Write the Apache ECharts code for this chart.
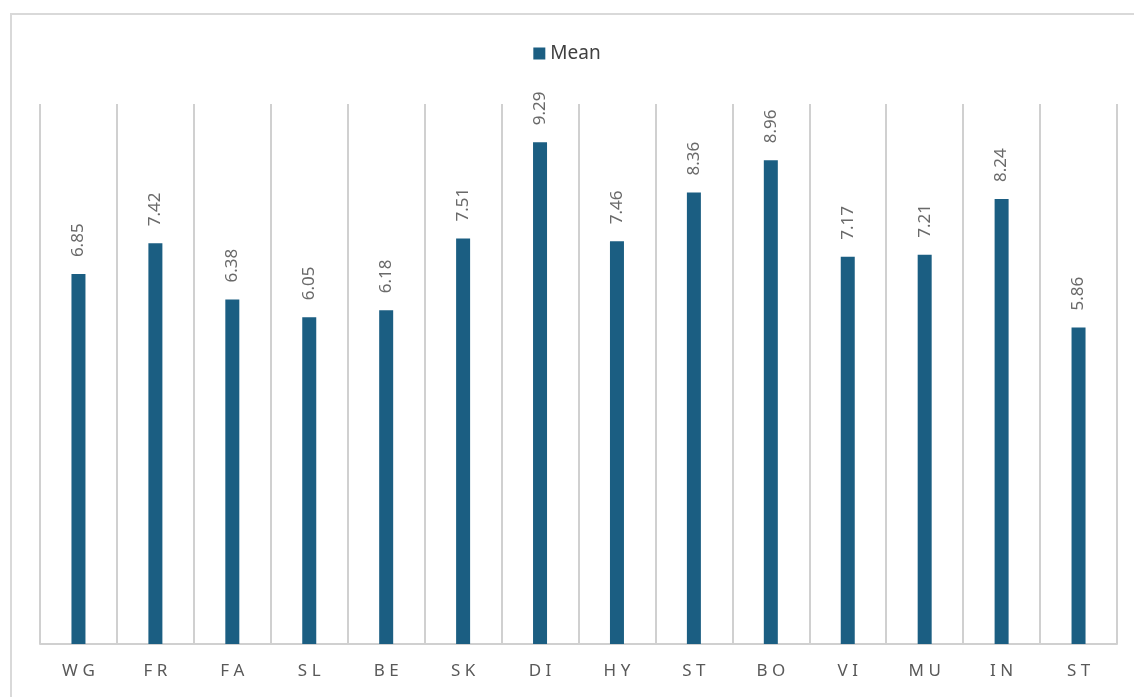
<!DOCTYPE html>
<html><head><meta charset="utf-8">
<script src="https://cdn.jsdelivr.net/npm/echarts@6/dist/echarts.min.js"></script>
<style>html,body{margin:0;padding:0;background:#fff}#c{width:1134px;height:697px}</style>
</head><body><div id="c"></div>
<script>
const categories = ['WG','FR','FA','SL','BE','SK','DI','HY','ST','BO','VI','MU','IN','ST'];
const meanValues = [6.85,7.42,6.38,6.05,6.18,7.51,9.29,7.46,8.36,8.96,7.17,7.21,8.24,5.86];
const seriesName = 'Mean';

const font = '"Noto Sans", "Open Sans", sans-serif';
const chart = echarts.init(document.getElementById('c'));
chart.setOption({
  animation: false,
  graphic: [{type:'rect', shape:{x:11,y:14,width:1140,height:700}, style:{fill:'none', stroke:'#d9d9d9', lineWidth:2}, silent:true}],
  legend: {top: 39, left: 'center', itemWidth: 12, itemHeight: 12, icon: 'rect', itemGap: 8,
    textStyle: {color:'#404040', fontSize: 19, fontFamily: font}},
  grid: {left: 40, right: 17, top: 104, bottom: 53, containLabel: false},
  xAxis: {type:'category', data: categories,
    axisLine:{lineStyle:{color:'#d0d0d0', width:2}}, axisTick:{show:false},
    splitLine:{show:true, lineStyle:{color:'#d0d0d0', width:2}},
    axisLabel:{color:'#595959', fontSize:17, margin:19, fontFamily: font,
      formatter: v => v.split('').join('\u2009\u200a')}},
  yAxis: {type:'value', min:0, max:10, show:false, splitLine:{show:false}},
  series: [{name: seriesName, type:'bar', data: meanValues, barWidth: 14,
    itemStyle:{color:'#1b5e82'},
    label:{show:true, position:'top', rotate:90, align:'left', verticalAlign:'middle', distance:17,
      color:'#6a6a6a', fontSize:17, fontFamily: font,
      formatter: p => p.value.toFixed(2)}}]
});
</script></body></html>
